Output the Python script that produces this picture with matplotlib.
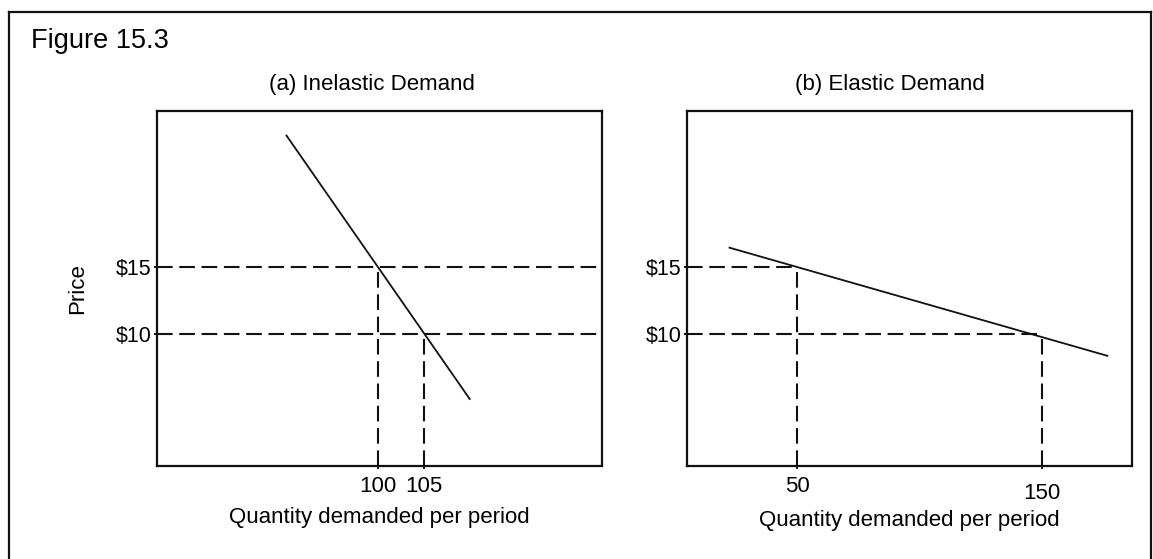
"""Figure 15.3: inelastic vs elastic demand, two side-by-side panels."""
import matplotlib
matplotlib.use("Agg")
import matplotlib.pyplot as plt
from matplotlib.lines import Line2D

plt.rcParams["font.family"] = ["Liberation Sans", "DejaVu Sans"]

# (a) inelastic demand
inel_q = [90, 110]
inel_p = [25, 5]
inel_ref_q = [100, 105]
inel_ref_p = [15, 10]

# (b) elastic demand
el_q = [22, 177]
el_p = [16.5, 8.3]
el_ref_q = [50, 150]
el_ref_p = [15, 10]

price_ticks = [15, 10]
price_labels = ["$15", "$10"]

INK = "#111111"
DASH = (0, (7.5, 3.2))

W, H = 1153, 559
fig = plt.figure(figsize=(W / 100, H / 100), dpi=100)
ax1 = fig.add_axes([157 / W, 1 - 466 / H, 445 / W, 355 / H])
ax2 = fig.add_axes([687 / W, 1 - 466 / H, 445 / W, 355 / H])

panels = [
    (ax1, "(a) Inelastic Demand", inel_q, inel_p, inel_ref_q, inel_ref_p, (76, 124.3), 0.483, True),
    (ax2, "(b) Elastic Demand", el_q, el_p, el_ref_q, el_ref_p, (5, 186.7), 0.456, False),
]

for ax, title, q, p, rq, rp, xlim, tx, full_h in panels:
    ax.set_xlim(*xlim)
    ax.set_ylim(0, 26.8)
    ax.plot(q, p, color=INK, lw=1.3, solid_capstyle="butt")
    # guide lines to the price/quantity pairs
    for qq, pp in zip(rq, rp):
        ax.plot([xlim[0], xlim[1] if full_h else qq], [pp, pp], color=INK, lw=1.5, ls=DASH)
        ax.plot([qq, qq], [0, pp], color=INK, lw=1.5, ls=DASH)
    ax.set_xticks(rq, [str(v) for v in rq])
    ax.set_yticks(price_ticks, price_labels)
    ax.tick_params(axis="x", length=2.5, width=1.4, pad=5, labelsize=16, color=INK)
    ax.tick_params(axis="y", length=2, width=1.4, pad=2, labelsize=15.5, color=INK)
    for s in ax.spines.values():
        s.set_linewidth(1.6)
        s.set_color(INK)
    ax.set_title(title, fontsize=16, pad=15, x=tx)
    ax.set_xlabel("Quantity demanded per period", fontsize=16, labelpad=7)

ax1.set_ylabel("Price", fontsize=16, labelpad=20)
# the 150 label sits a bit lower than the others
ax2.xaxis.get_major_ticks()[1].set_pad(10)
ax2.xaxis.labelpad = 4

fig.text(31 / W, 1 - 48 / H, "Figure 15.3", fontsize=19.5, va="baseline", ha="left")

# outer frame (open at the bottom)
fx0, fx1, fy = 8.5 / W, 1151 / W, 1 - 12 / H
for xs, ys in [([fx0, fx0], [0, fy]), ([fx0, fx1], [fy, fy]), ([fx1, fx1], [fy, 0])]:
    fig.add_artist(Line2D(xs, ys, transform=fig.transFigure, color=INK, lw=1.6))

fig.savefig("out.png", dpi=100, facecolor="white")
